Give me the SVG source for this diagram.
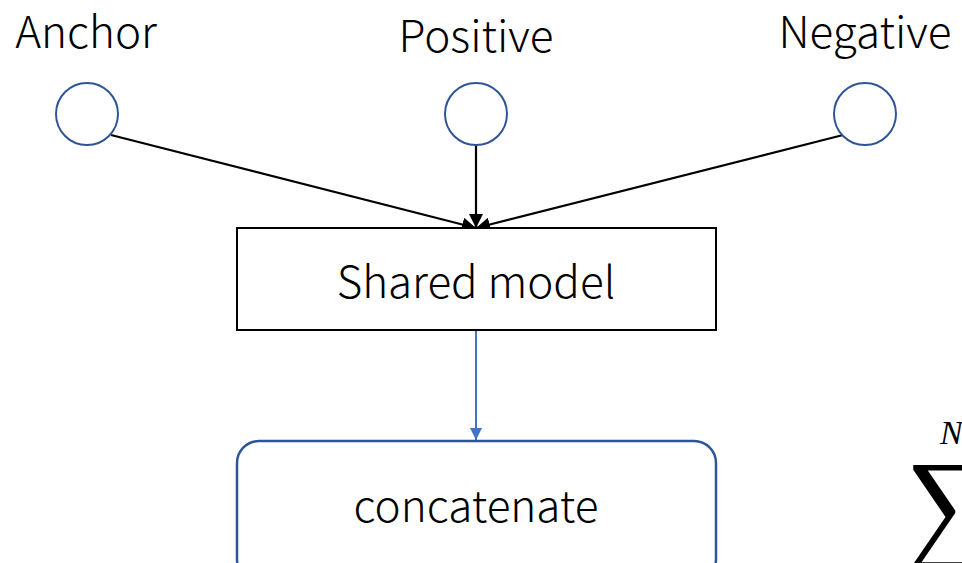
<svg xmlns="http://www.w3.org/2000/svg" width="962" height="563" viewBox="0 0 962 563">
  <style>
    .lbl { font-family: "Noto Sans CJK SC", "Noto Sans", "Liberation Sans", sans-serif; font-size: 44px; fill: #000; font-weight: 300; }
    .in { fill: #fff; stroke: #2F5597; stroke-width: 2; }
    .edge { stroke: #000; stroke-width: 2.2; fill: none; }
    .edge-blue { stroke: #4472C4; stroke-width: 2; fill: none; }
    .math { font-family: "Liberation Serif", "DejaVu Serif", serif; fill: #000; }
  </style>
  <defs>
    <marker id="ahb" viewBox="0 0 10 10" refX="10" refY="5" markerWidth="12" markerHeight="12" markerUnits="userSpaceOnUse" orient="auto">
      <path d="M0,0 L10,5 L0,10 z" fill="#4472C4"/>
    </marker>
    <marker id="ahk" viewBox="0 0 10 10" refX="10" refY="5" markerWidth="14" markerHeight="14" markerUnits="userSpaceOnUse" orient="auto">
      <path d="M0,0 L10,5 L0,10 z" fill="#000"/>
    </marker>
  </defs>

  <rect width="962" height="563" fill="#fff"/>

  <g id="connectors">
    <line class="edge" x1="111" y1="135" x2="476" y2="228" marker-end="url(#ahk)"/>
    <line class="edge" x1="476" y1="145" x2="476" y2="228" marker-end="url(#ahk)"/>
    <line class="edge" x1="843" y1="135" x2="476" y2="228" marker-end="url(#ahk)"/>
    <line class="edge-blue" x1="476" y1="331" x2="476" y2="440" marker-end="url(#ahb)"/>
  </g>

  <g id="anchor">
    <text class="lbl" x="86" y="48" text-anchor="middle">Anchor</text>
    <circle class="in" cx="87" cy="114" r="31"/>
  </g>
  <g id="positive">
    <text class="lbl" x="476" y="52" text-anchor="middle">Positive</text>
    <circle class="in" cx="476" cy="114" r="31"/>
  </g>
  <g id="negative">
    <text class="lbl" x="865" y="48" text-anchor="middle">Negative</text>
    <circle class="in" cx="865" cy="114" r="31"/>
  </g>

  <g id="shared-model">
    <rect x="237" y="228" width="479" height="102" fill="#fff" stroke="#000" stroke-width="2"/>
    <text class="lbl" x="476" y="298" text-anchor="middle">Shared model</text>
  </g>

  <g id="concatenate">
    <rect x="237" y="441" width="479" height="140" rx="22" ry="22" fill="#fff" stroke="#2F5597" stroke-width="2.5"/>
    <text class="lbl" x="476" y="522" text-anchor="middle">concatenate</text>
  </g>

  <g id="sum">
    <text class="math" x="940" y="444" font-size="34" font-style="italic">N</text>
    <text class="math" x="905" y="546" font-size="124">∑</text>
  </g>
</svg>
